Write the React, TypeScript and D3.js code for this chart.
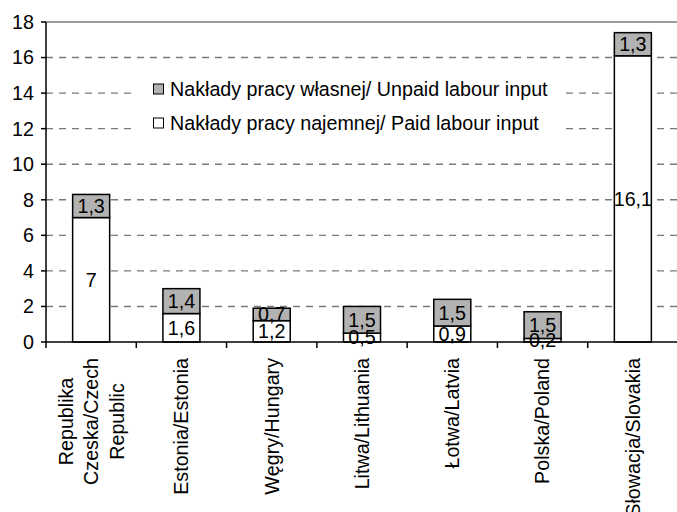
import { useEffect, useRef } from 'react';
import * as d3 from 'd3';

// dane
const countries = [
  ['Republika', 'Czeska/Czech', 'Republic'],
  ['Estonia/Estonia'],
  ['Węgry/Hungary'],
  ['Litwa/Lithuania'],
  ['Łotwa/Latvia'],
  ['Polska/Poland'],
  ['Słowacja/Slovakia'],
];
const paid = [7, 1.6, 1.2, 0.5, 0.9, 0.2, 16.1];
const unpaid = [1.3, 1.4, 0.7, 1.5, 1.5, 1.5, 1.3];
const yTicks = [0, 2, 4, 6, 8, 10, 12, 14, 16, 18];
const legendLabels = [
  'Nakłady pracy własnej/ Unpaid labour input',
  'Nakłady pracy najemnej/ Paid labour input',
];

const W = 677;
const H = 512;
const FONT = '"Liberation Sans", Arial, sans-serif';
const FS = 19.7;
const GREY = '#b2b2b2';

const fmt = (v: number) => String(v).replace('.', ',');

const Chart = () => {
  const svgRef = useRef<SVGSVGElement>(null);

  useEffect(() => {
    if (!svgRef.current) return;
    const svg = d3.select(svgRef.current);
    svg.selectAll('*').remove();

    const left = 46, right = 678, top = 22, bottom = 342;
    const x = d3.scaleBand<number>().domain(d3.range(countries.length)).range([left, right]);
    const y = d3.scaleLinear().domain([0, 18]).range([bottom, top]);
    const bw = x.bandwidth() * 0.41;

    // linie siatki
    svg.append('g').selectAll('line').data(yTicks.filter(t => t > 0)).enter().append('line')
      .attr('x1', left).attr('x2', right)
      .attr('y1', d => y(d)).attr('y2', d => y(d))
      .attr('stroke', '#7a7a7a').attr('stroke-width', 1.4)
      .attr('stroke-dasharray', d => (d === 18 ? null : '7,6'));

    // legenda (białe tło zasłania siatkę)
    const lg = svg.append('g');
    lg.append('rect').attr('x', 134).attr('y', 72).attr('width', 430).attr('height', 70).attr('fill', '#fff');
    legendLabels.forEach((lab, i) => {
      const cy = 89 + i * 34;
      lg.append('rect').attr('x', 153.5).attr('y', cy - 5).attr('width', 10).attr('height', 10)
        .attr('fill', i === 0 ? GREY : '#fff').attr('stroke', '#000').attr('stroke-width', 1);
      lg.append('text').attr('x', 170).attr('y', cy).attr('dy', '0.35em')
        .attr('font-family', FONT).attr('font-size', FS).attr('fill', '#000').text(lab);
    });

    // słupki
    const bars = svg.append('g');
    countries.forEach((_, i) => {
      const cx = x(i)! + x.bandwidth() / 2;
      const segs = [
        { y0: 0, y1: paid[i], fill: '#fff', v: paid[i] },
        { y0: paid[i], y1: paid[i] + unpaid[i], fill: GREY, v: unpaid[i] },
      ];
      segs.forEach(s => {
        bars.append('rect')
          .attr('x', cx - bw / 2).attr('width', bw)
          .attr('y', y(s.y1)).attr('height', y(s.y0) - y(s.y1))
          .attr('fill', s.fill).attr('stroke', '#000').attr('stroke-width', 1.5);
      });
      segs.forEach(s => {
        bars.append('text')
          .attr('x', cx).attr('y', (y(s.y0) + y(s.y1)) / 2).attr('dy', '0.35em')
          .attr('text-anchor', 'middle').attr('font-family', FONT).attr('font-size', FS)
          .attr('fill', '#000').text(fmt(s.v));
      });
    });

    // osie
    const ax = svg.append('g').attr('stroke', '#000');
    ax.append('line').attr('x1', left).attr('x2', left).attr('y1', top).attr('y2', bottom).attr('stroke-width', 1.5);
    ax.append('line').attr('x1', left).attr('x2', right).attr('y1', bottom).attr('y2', bottom).attr('stroke-width', 1.5);
    ax.selectAll('line.yt').data(yTicks).enter().append('line').attr('class', 'yt')
      .attr('x1', left - 5).attr('x2', left).attr('y1', d => y(d)).attr('y2', d => y(d)).attr('stroke-width', 1.5);
    ax.selectAll('line.xt').data(d3.range(countries.length + 1)).enter().append('line').attr('class', 'xt')
      .attr('x1', d => left + d * x.step()).attr('x2', d => left + d * x.step())
      .attr('y1', bottom).attr('y2', bottom + 6).attr('stroke-width', 1.5);

    svg.append('g').selectAll('text').data(yTicks).enter().append('text')
      .attr('x', 34).attr('y', d => y(d)).attr('dy', '0.35em').attr('text-anchor', 'end')
      .attr('font-family', FONT).attr('font-size', FS).attr('fill', '#000').text(d => d);

    // etykiety krajów (obrócone)
    const lineH = 25.5;
    countries.forEach((lines, i) => {
      const cx = x(i)! + x.bandwidth() / 2;
      const g = svg.append('g').attr('transform', `translate(${cx},${bottom + 16}) rotate(-90)`);
      const texts = lines.map((ln, j) =>
        g.append('text')
          .attr('y', (j - (lines.length - 1) / 2) * lineH).attr('dy', '0.35em')
          .attr('font-family', FONT).attr('font-size', FS).attr('fill', '#000').text(ln));
      const maxLen = d3.max(texts, t => (t.node() as SVGTextElement).getComputedTextLength()) || 0;
      texts.forEach(t => t.attr('x', -maxLen / 2).attr('text-anchor', 'middle'));
    });
  }, []);

  return <svg ref={svgRef} width={W} height={H} style={{ display: 'block', position: 'absolute', left: 0, top: 0, background: '#fff' }} />;
};

export default function App() {
  return <Chart />;
}
